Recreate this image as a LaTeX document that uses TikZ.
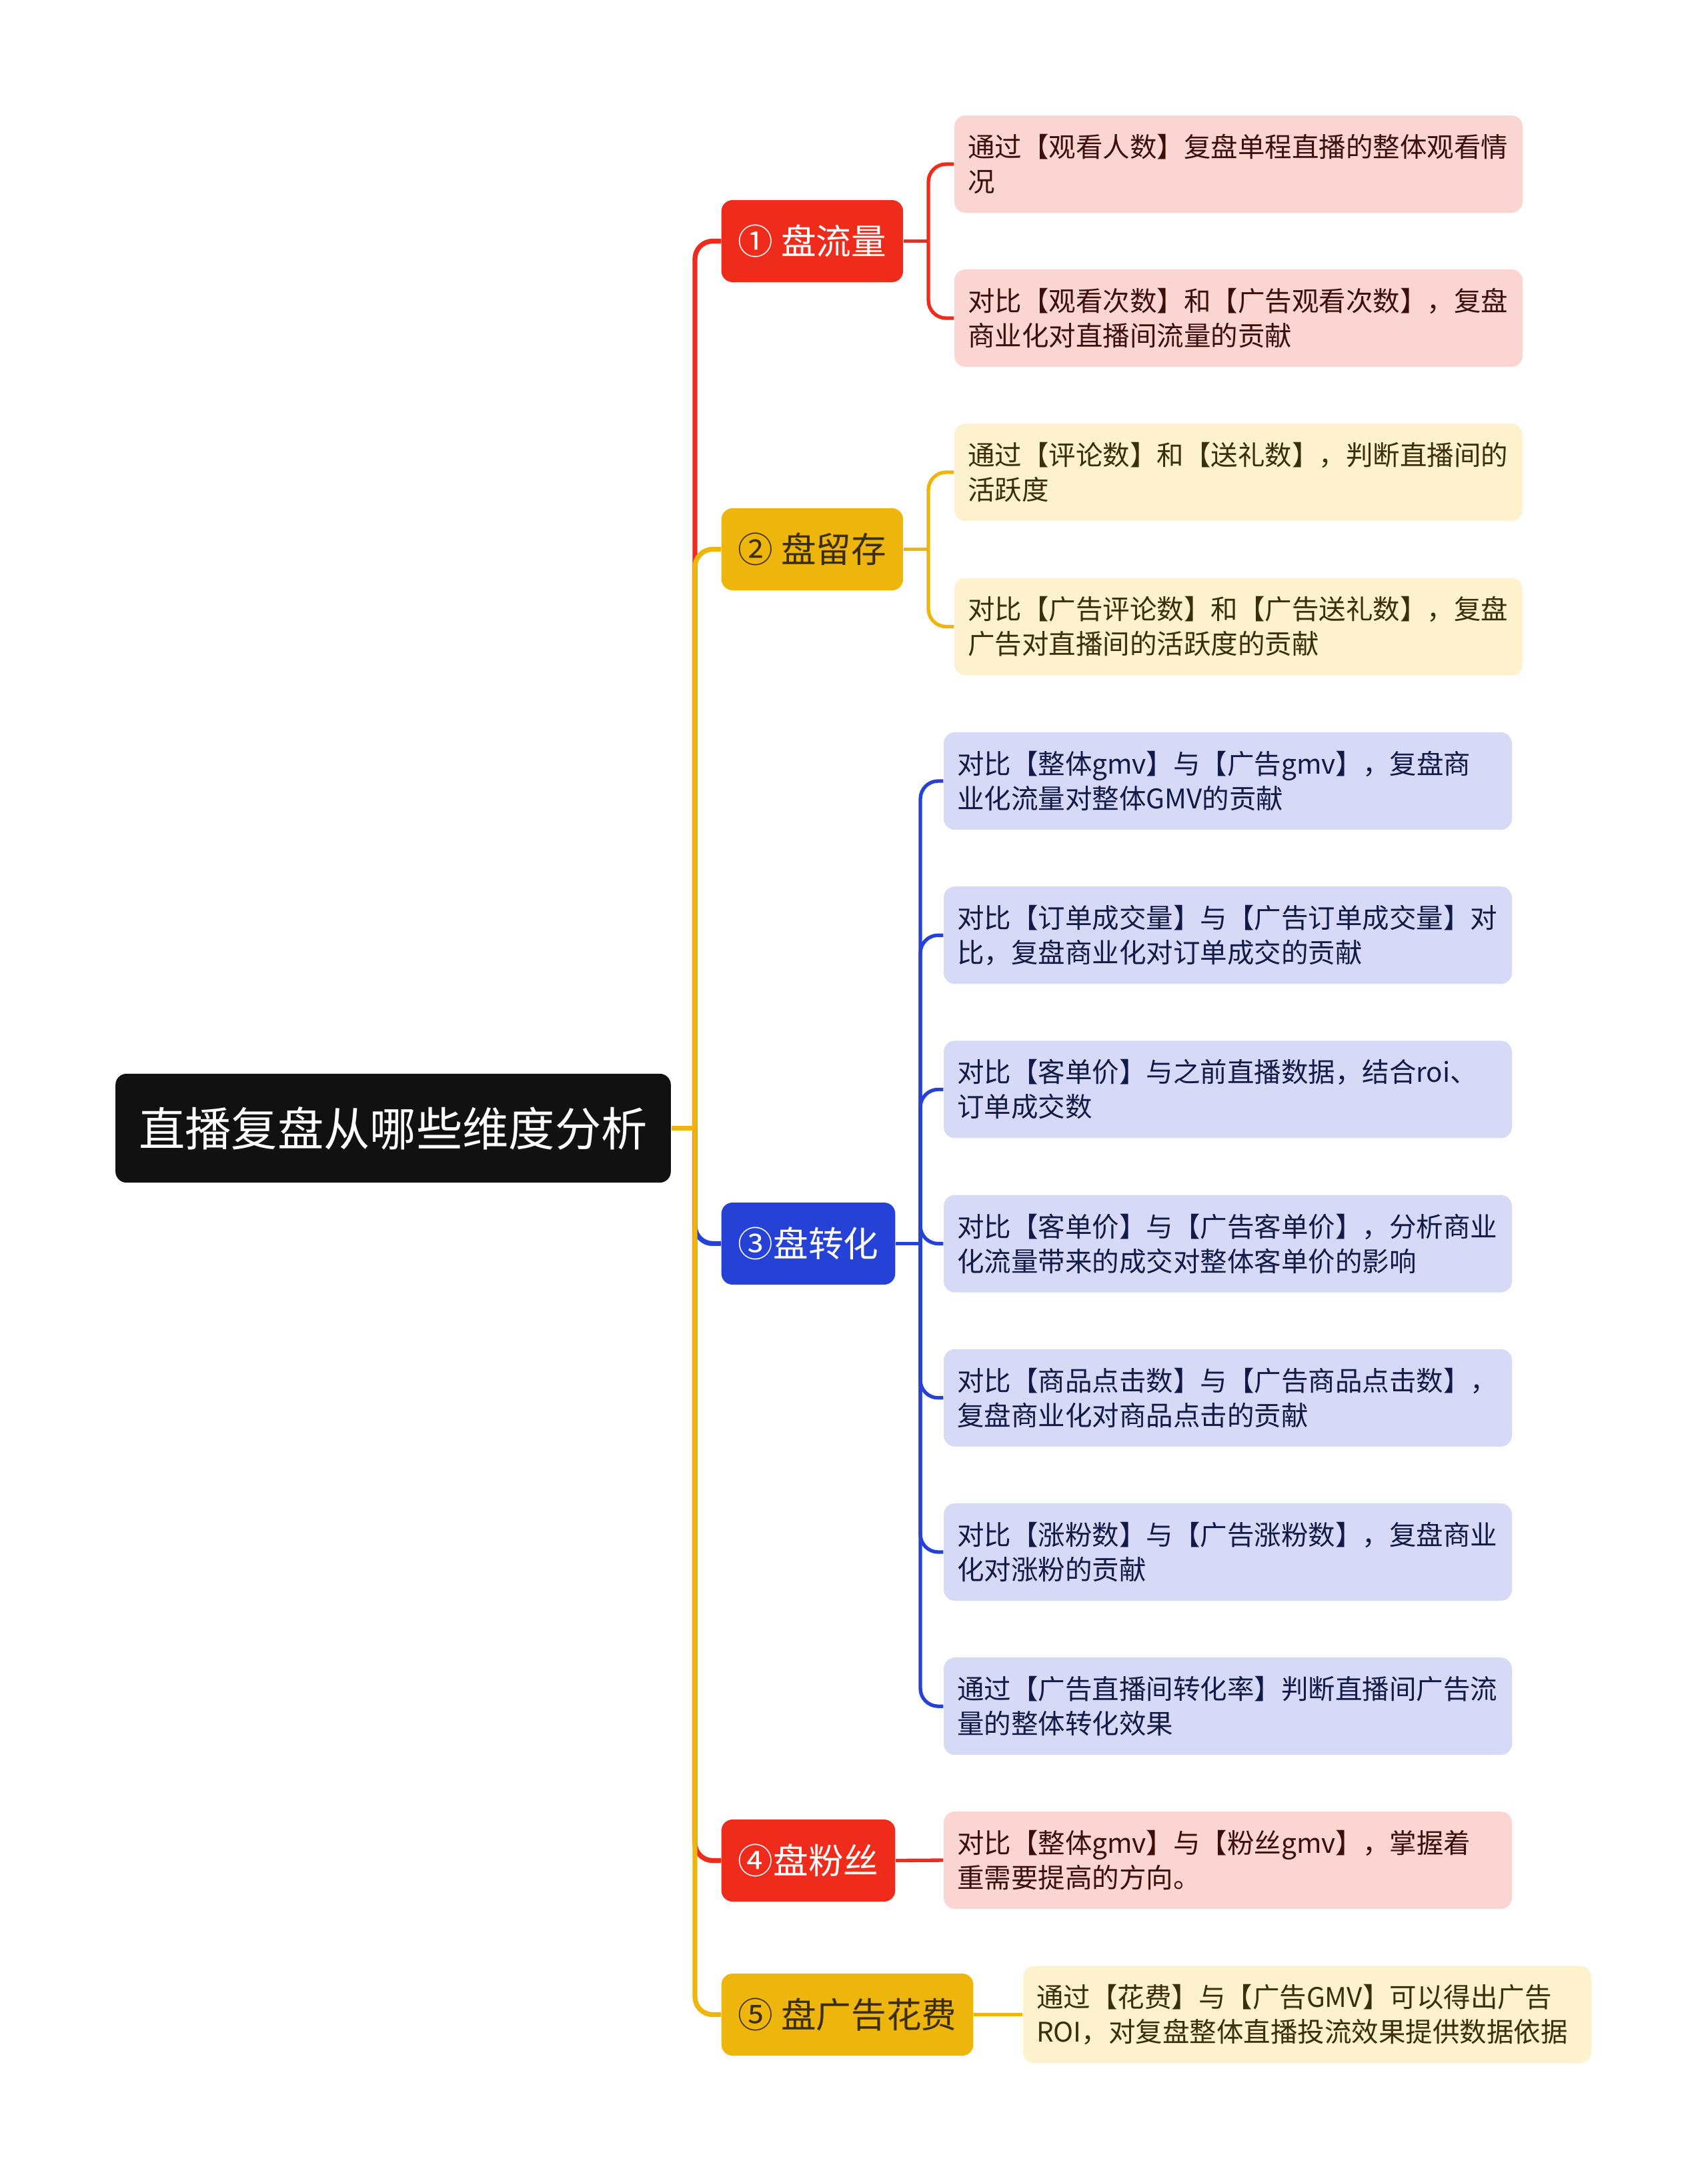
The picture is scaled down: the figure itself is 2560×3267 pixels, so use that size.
\documentclass[tikz,border=0pt]{standalone}
\usepackage{fontspec}
\setmainfont{Noto Sans CJK SC}
\definecolor{negro}{HTML}{111111}
\definecolor{rojo}{HTML}{EF2B1B}
\definecolor{amarillo}{HTML}{EEB60D}
\definecolor{azul}{HTML}{2641D6}
\definecolor{rosa}{HTML}{FBD5D1}
\definecolor{crema}{HTML}{FDF1CE}
\definecolor{lila}{HTML}{D7DAF6}
\definecolor{txtrojo}{HTML}{3D0F0A}
\definecolor{txtamar}{HTML}{3B2E08}
\definecolor{txtazul}{HTML}{121A48}
\begin{document}
\begin{tikzpicture}[x=0.3pt,y=-0.3pt,
	raizbox/.style={fill=negro, text=white, rounded corners=5pt, minimum height=49pt, inner xsep=10.5pt, font=\fontsize{20.8}{25}\selectfont},
	rama/.style={rounded corners=5pt, minimum height=36.9pt, inner xsep=7.5pt, anchor=west, font=\fontsize{15.8}{19}\selectfont},
	hoja/.style={rounded corners=5pt, minimum height=43.8pt, text width=243.6pt, inner xsep=6pt, align=left, font=\fontsize{12.15}{15.6}\selectfont},
	tronco/.style={line width=2.2pt, rounded corners=8pt},
	enlace/.style={line width=1.6pt, rounded corners=8pt}]
	\useasboundingbox (0,0) rectangle (2560,3267);
	
	% Raiz y ramas
	\node[raizbox] (raiz) at (589.5,1691.5) {直播复盘从哪些维度分析};
	\node[rama, fill=rojo, text=white] (b1) at (1081,361.5) {① 盘流量};
	\node[rama, fill=amarillo, text=txtamar] (b2) at (1081,823.5) {② 盘留存};
	\node[rama, fill=azul, text=white] (b3) at (1081,1864.5) {③盘转化};
	\node[rama, fill=rojo, text=white] (b4) at (1081,2789.5) {④盘粉丝};
	\node[rama, fill=amarillo, text=txtamar] (b5) at (1081,3020.5) {⑤ 盘广告花费};
	
	% Hojas
	\node[hoja, fill=rosa, text=txtrojo] (l1a) at (1857,246) {通过【观看人数】复盘单程直播的整体观看情\\况};
	\node[hoja, fill=rosa, text=txtrojo] (l1b) at (1857,477) {对比【观看次数】和【广告观看次数】，复盘\\商业化对直播间流量的贡献};
	\node[hoja, fill=crema, text=txtamar] (l2a) at (1857,708) {通过【评论数】和【送礼数】，判断直播间的\\活跃度};
	\node[hoja, fill=crema, text=txtamar] (l2b) at (1857,939.5) {对比【广告评论数】和【广告送礼数】，复盘\\广告对直播间的活跃度的贡献};
	\foreach \k/\txt in {0/{对比【整体gmv】与【广告gmv】，复盘商\\业化流量对整体GMV的贡献},
		1/{对比【订单成交量】与【广告订单成交量】对\\比，复盘商业化对订单成交的贡献},
		2/{对比【客单价】与之前直播数据，结合roi、\\订单成交数},
		3/{对比【客单价】与【广告客单价】，分析商业\\化流量带来的成交对整体客单价的影响},
		4/{对比【商品点击数】与【广告商品点击数】，\\复盘商业化对商品点击的贡献},
		5/{对比【涨粉数】与【广告涨粉数】，复盘商业\\化对涨粉的贡献},
		6/{通过【广告直播间转化率】判断直播间广告流\\量的整体转化效果}} {
		\node[hoja, fill=lila, text=txtazul] (l3-\k) at (1841,{1171+231.2*\k}) {\txt};
	}
	\node[hoja, fill=rosa, text=txtrojo] (l4) at (1841,2789) {对比【整体gmv】与【粉丝gmv】，掌握着\\重需要提高的方向。};
	\node[hoja, fill=crema, text=txtamar] (l5) at (1960,3020.5) {通过【花费】与【广告GMV】可以得出广告\\ROI，对复盘整体直播投流效果提供数据依据};
	
	% Conectores principales
	\coordinate (hub) at (1042,1691.5);
	\draw[tronco, rojo] (hub) |- (b1.west);
	\draw[tronco, azul] (hub) |- (b3.west);
	\draw[tronco, rojo] (hub) |- (b4.west);
	\draw[tronco, amarillo] (hub) |- (b2.west);
	\draw[tronco, amarillo] (hub) |- (b5.west);
	\draw[tronco, amarillo] (raiz.east) -- (hub);
	
	% Conectores a las hojas
	\coordinate (hub1) at (1392,361.5);
	\coordinate (hub2) at (1392,823.5);
	\coordinate (hub3) at (1380,1864.5);
	\draw[enlace, rojo] (b1.east) -- (hub1);
	\draw[enlace, rojo] (hub1) |- (l1a.west);
	\draw[enlace, rojo] (hub1) |- (l1b.west);
	\draw[enlace, amarillo] (b2.east) -- (hub2);
	\draw[enlace, amarillo] (hub2) |- (l2a.west);
	\draw[enlace, amarillo] (hub2) |- (l2b.west);
	\draw[enlace, azul] (b3.east) -- (hub3);
	\foreach \k in {0,...,6} {
		\draw[enlace, azul] (hub3) |- (l3-\k.west);
	}
	\draw[enlace, rojo] (b4.east) -- (l4.west);
	\draw[enlace, amarillo] (b5.east) -- (l5.west);
\end{tikzpicture}
\end{document}
